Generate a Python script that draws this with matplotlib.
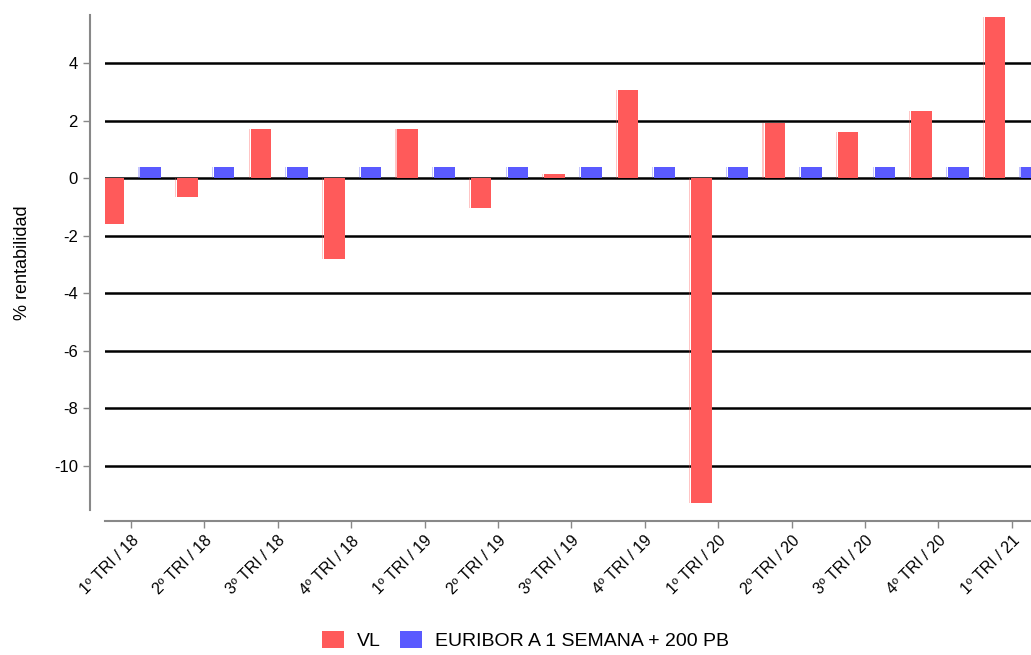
import numpy as np
import matplotlib.pyplot as plt

plt.rcParams["font.family"] = ["Liberation Sans", "DejaVu Sans"]

# quarterly returns
quarters = ["1º TRI / 18", "2º TRI / 18", "3º TRI / 18", "4º TRI / 18",
            "1º TRI / 19", "2º TRI / 19", "3º TRI / 19", "4º TRI / 19",
            "1º TRI / 20", "2º TRI / 20", "3º TRI / 20", "4º TRI / 20",
            "1º TRI / 21"]
vl = [-1.6, -0.65, 1.7, -2.8, 1.7, -1.05, 0.15, 3.05, -11.3, 1.9, 1.6, 2.35, 5.6]
euribor = [0.4, 0.4, 0.4, 0.4, 0.4, 0.4, 0.4, 0.4, 0.4, 0.4, 0.4, 0.4, 0.4]
y_ticks = [-10, -8, -6, -4, -2, 0, 2, 4]

RED = "#ff5a5a"
BLUE = "#5a5aff"


def main():
    x = np.arange(len(quarters))
    width = 0.28

    fig = plt.figure(figsize=(10.31, 6.55), dpi=100)
    ax = fig.add_axes([0.1018, 0.221, 0.8982, 0.756])

    # spines first: set_position resets the tick objects
    for side in ("top", "right"):
        ax.spines[side].set_visible(False)
    ax.spines["left"].set_position(("outward", 11))
    ax.spines["bottom"].set_position(("outward", 8))
    for side in ("left", "bottom"):
        ax.spines[side].set_color("#888888")
        ax.spines[side].set_linewidth(1.5)

    for yv in y_ticks:
        ax.axhline(yv, color="black", lw=1.8, zorder=1)

    # thin pale strip on the left edge of each bar
    ax.bar(x - 0.23 - width / 2 - 0.02, vl, 0.015, color=RED, alpha=0.35,
           zorder=2, linewidth=0)
    ax.bar(x + 0.27 - width / 2 - 0.02, euribor, 0.015, color=BLUE, alpha=0.35,
           zorder=2, linewidth=0)
    ax.bar(x - 0.23, vl, width, color=RED, zorder=3, linewidth=0, label="VL")
    ax.bar(x + 0.27, euribor, width, color=BLUE, zorder=3, linewidth=0,
           label="EURIBOR A 1 SEMANA + 200 PB")

    ax.set_xlim(-0.354, 12.26)
    ax.set_ylim(-11.55, 5.67)
    ax.tick_params(axis="both", color="#888888", length=5, width=1)
    ax.set_yticks(y_ticks)
    ax.set_yticklabels([str(v) for v in y_ticks], fontsize=12)
    ax.set_xticks(x)
    ax.set_xticklabels(quarters, rotation=45, ha="right", rotation_mode="anchor",
                       fontsize=11.5)

    ax.set_ylabel("% rentabilidad", fontsize=13)
    ax.yaxis.set_label_coords(-0.08, 0.5)

    fig.legend(loc="center", bbox_to_anchor=(0.51, 0.022), ncol=2, frameon=False,
               fontsize=14, handlelength=1.1, handleheight=1.0, columnspacing=1.0,
               handletextpad=0.7)

    fig.savefig("out.png", dpi=100)


if __name__ == "__main__":
    main()
